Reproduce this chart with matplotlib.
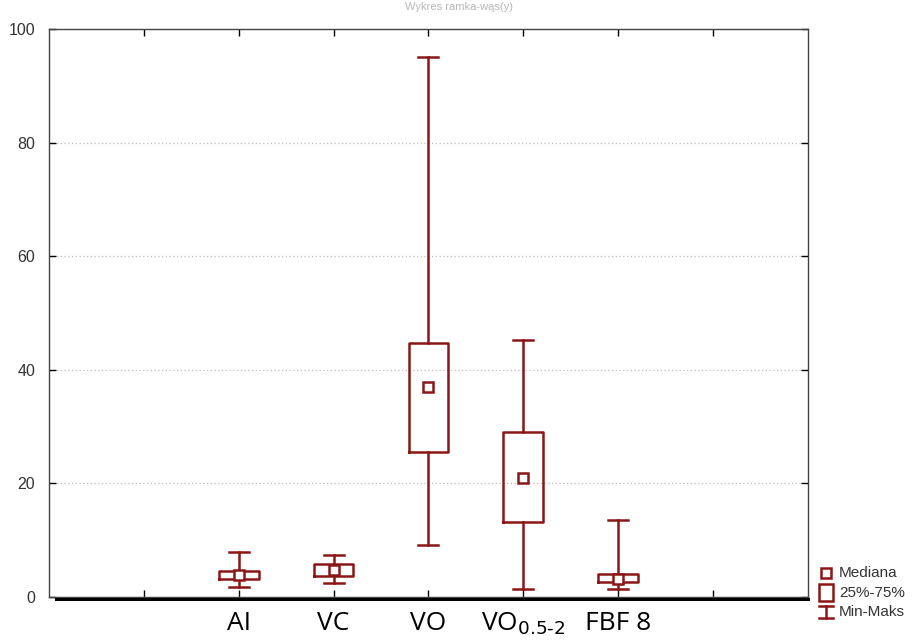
import matplotlib.pyplot as plt
from matplotlib.lines import Line2D
from matplotlib.patches import Rectangle

# values (Min, Q1, Median, Q3, Max)
labels = ["AI", "VC", "VO", "VO$_{0.5\\text{-}2}$", "FBF 8"]
mins = [1.8, 2.5, 9.2, 1.4, 1.35]
q1 = [3.2, 3.75, 25.6, 13.2, 2.6]
medians = [3.9, 4.75, 37.0, 20.9, 3.2]
q3 = [4.6, 5.75, 44.8, 29.1, 4.05]
maxs = [8.0, 7.45, 95.1, 45.2, 13.55]

positions = [2, 3, 4, 5, 6]
red = "#8a1616"

fig = plt.figure(figsize=(9.18, 6.42), dpi=100)
ax = fig.add_axes([0.0534, 0.0701, 0.8266, 0.8847])

stats = []
for lab, lo, a, m, b, hi in zip(labels, mins, q1, medians, q3, maxs):
    stats.append({"label": lab, "whislo": lo, "q1": a, "med": m, "q3": b, "whishi": hi})

lw = 1.8
ax.bxp(stats, positions=positions, widths=0.42, showfliers=False,
       boxprops=dict(color=red, linewidth=lw),
       whiskerprops=dict(color=red, linewidth=lw),
       capprops=dict(color=red, linewidth=lw),
       medianprops=dict(linewidth=0),
       capwidths=0.21, zorder=3)
ax.plot(positions, medians, linestyle="none", marker="s", markersize=7,
        markerfacecolor="white", markeredgecolor=red, markeredgewidth=lw, zorder=4)

ax.set_xlim(0, 8)
ax.set_ylim(0, 100)
ax.set_xticks([1, 2, 3, 4, 5, 6, 7])
ax.set_xticklabels([""] + labels + [""], fontsize=19, family="Open Sans")
ax.set_yticks([0, 20, 40, 60, 80, 100])
ax.set_yticklabels(["0", "20", "40", "60", "80", "100"], fontsize=11.5,
                   family="Liberation Sans", color="#333333")
ax.tick_params(axis="both", direction="in", length=5, width=1, top=True, right=True)
ax.tick_params(axis="x", pad=10)
ax.tick_params(axis="y", pad=10)
ax.grid(axis="y", linestyle=(0, (1, 2)), color="#bdbdbd", linewidth=0.9)
for s in ax.spines.values():
    s.set_color("#444444")
    s.set_linewidth(1)

# thick shadow line under the bottom axis
fig.add_artist(Line2D([0.061, 0.880], [0.0675, 0.0675], color="black", linewidth=2.2))

# faint title at the very top
fig.text(0.5, 0.997, "Wykres ramka-wąs(y)", ha="center", va="top",
         fontsize=8, color="#b8b8b8", family="Liberation Sans")

# legend, drawn by hand like the original
lx = 826 / 918
fig.add_artist(Rectangle((lx - 5 / 918, (642 - 578) / 642), 10 / 918, 10 / 642,
                         facecolor="white", edgecolor=red, linewidth=lw))
fig.add_artist(Rectangle((lx - 7 / 918, (642 - 601) / 642), 14 / 918, 17 / 642,
                         facecolor="white", edgecolor=red, linewidth=lw))
fig.add_artist(Line2D([lx, lx], [(642 - 606) / 642, (642 - 618) / 642], color=red, linewidth=lw))
fig.add_artist(Line2D([lx - 7 / 918, lx + 7 / 918], [(642 - 606) / 642] * 2, color=red, linewidth=lw))
fig.add_artist(Line2D([lx - 7 / 918, lx + 7 / 918], [(642 - 618) / 642] * 2, color=red, linewidth=lw))
for txt, yy in [("Mediana", 573), ("25%-75%", 593), ("Min-Maks", 612)]:
    fig.text(839 / 918, (642 - yy) / 642, txt, ha="left", va="center",
             fontsize=11, color="#333333", family="Liberation Sans")

fig.savefig("out.png", dpi=100)
